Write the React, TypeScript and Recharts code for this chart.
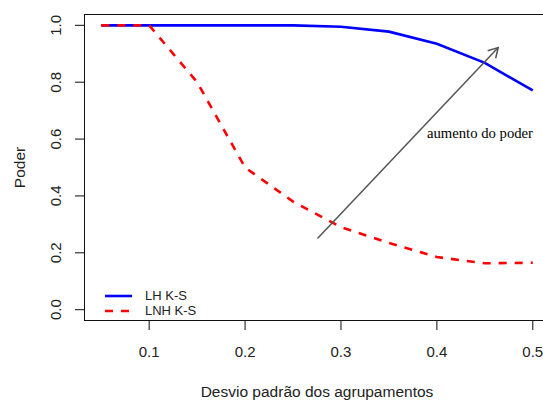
import { LineChart, Line, XAxis, YAxis, ReferenceLine, ReferenceDot } from "recharts"

const sd = [0.05, 0.1, 0.15, 0.2, 0.25, 0.3, 0.35, 0.4, 0.45, 0.5]
const lhKS = [1.0, 1.0, 1.0, 1.0, 1.0, 0.995, 0.978, 0.935, 0.868, 0.771]
const lnhKS = [1.0, 1.0, 0.8, 0.5, 0.38, 0.29, 0.235, 0.185, 0.163, 0.165]
const xTicks = [0.1, 0.2, 0.3, 0.4, 0.5]
const yTicks = [0.0, 0.2, 0.4, 0.6, 0.8, 1.0]
const arrowFrom = { x: 0.2755, y: 0.25 }
const arrowTo = { x: 0.464, y: 0.922 }
const note = { x: 0.445, y: 0.623, text: "aumento do poder" }

const data = sd.map((s, i) => ({ sd: s, lh: lhKS[i], lnh: lnhKS[i] }))

// R-style 4% padding on each side
const xPad = (Math.max(...sd) - Math.min(...sd)) * 0.04
const xDomain = [Math.min(...sd) - xPad, Math.max(...sd) + xPad]
const yDomain = [-0.04, 1.04]

const sans = "'Liberation Sans', Arial, sans-serif"
const serif = "'Liberation Serif', 'Times New Roman', serif"

// plot area, shared by the chart margins and the frame drawn round it
const plot = { left: 84, top: 14, width: 466, height: 307 }
const W = 543
const H = 400

function XTick({ x, y, payload }: any) {
  return (
    <text x={x} y={y} dy="0.355em" textAnchor="middle" fontSize={15} fontFamily={sans} fill="#222">
      {payload.value.toFixed(1)}
    </text>
  )
}

function YTick({ x, y, payload }: any) {
  return (
    <text
      x={x}
      y={y}
      dy="0.355em"
      textAnchor="middle"
      fontSize={15}
      fontFamily={sans}
      fill="#222"
      transform={`rotate(-90, ${x}, ${y})`}
    >
      {payload.value.toFixed(1)}
    </text>
  )
}

function Arrow({ x1, y1, x2, y2 }: any) {
  const ang = Math.atan2(y2 - y1, x2 - x1)
  const len = 11
  const spread = Math.PI / 6
  const h1x = x2 - len * Math.cos(ang - spread)
  const h1y = y2 - len * Math.sin(ang - spread)
  const h2x = x2 - len * Math.cos(ang + spread)
  const h2y = y2 - len * Math.sin(ang + spread)
  return (
    <g stroke="#555" strokeWidth={1.5} fill="none">
      <line x1={x1} y1={y1} x2={x2} y2={y2} />
      <polyline points={`${h1x},${h1y} ${x2},${y2} ${h2x},${h2y}`} />
    </g>
  )
}

export default function App() {
  return (
    <div style={{ position: "absolute", left: 0, top: 0, width: W, height: H, overflow: "hidden", background: "#fff" }}>
      <LineChart
        width={W}
        height={H}
        data={data}
        margin={{ top: plot.top, right: W - plot.left - plot.width, left: 0, bottom: 0 }}
      >
        <XAxis
          dataKey="sd"
          type="number"
          domain={xDomain}
          ticks={xTicks}
          axisLine={false}
          tickLine={{ stroke: "#333", strokeWidth: 1.2 }}
          tickSize={9}
          tickMargin={22}
          height={H - plot.top - plot.height}
          tick={<XTick />}
          label={{
            content: ({ viewBox }: any) => (
              <text
                x={viewBox.x + viewBox.width / 2}
                y={viewBox.y + 70}
                dy="0.355em"
                textAnchor="middle"
                fontSize={15.5}
                fontFamily={sans}
                fill="#222"
              >
                Desvio padrão dos agrupamentos
              </text>
            ),
          }}
        />
        <YAxis
          type="number"
          domain={yDomain}
          ticks={yTicks}
          axisLine={false}
          tickLine={{ stroke: "#333", strokeWidth: 1.2 }}
          tickSize={9}
          tickMargin={19}
          width={plot.left}
          tick={<YTick />}
          label={{
            content: ({ viewBox }: any) => {
              const lx = viewBox.x + 19
              const ly = viewBox.y + viewBox.height / 2
              return (
                <text
                  x={lx}
                  y={ly}
                  dy="0.355em"
                  textAnchor="middle"
                  fontSize={15.5}
                  fontFamily={sans}
                  fill="#222"
                  transform={`rotate(-90, ${lx}, ${ly})`}
                >
                  Poder
                </text>
              )
            },
          }}
        />
        <Line
          dataKey="lh"
          type="linear"
          stroke="#0000ff"
          strokeWidth={2.6}
          dot={false}
          activeDot={false}
          isAnimationActive={false}
        />
        <Line
          dataKey="lnh"
          type="linear"
          stroke="#ff0000"
          strokeWidth={2.6}
          strokeDasharray="8 8"
          dot={false}
          activeDot={false}
          isAnimationActive={false}
        />
        <ReferenceLine segment={[arrowFrom, arrowTo]} shape={<Arrow />} />
        <ReferenceDot
          x={note.x}
          y={note.y}
          r={0}
          shape={(p: any) => (
            <text x={p.cx} y={p.cy} dy="0.355em" textAnchor="middle" fontSize={14.7} fontFamily={serif} fill="#000">
              {note.text}
            </text>
          )}
        />
      </LineChart>
      {/* plot frame (R box()) */}
      <div
        style={{
          position: "absolute",
          left: plot.left,
          top: plot.top,
          width: plot.width,
          height: plot.height,
          boxSizing: "border-box",
          border: "1.3px solid #111",
          pointerEvents: "none",
        }}
      />
      <div style={{ position: "absolute", left: 104, top: 288, fontFamily: sans, fontSize: 13, color: "#222", lineHeight: "15px" }}>
        <div style={{ display: "flex", alignItems: "center", height: 15 }}>
          <svg width={30} height={15}>
            <line x1={1} y1={8} x2={28} y2={8} stroke="#0000ff" strokeWidth={2.6} />
          </svg>
          <span style={{ marginLeft: 11 }}>LH K-S</span>
        </div>
        <div style={{ display: "flex", alignItems: "center", height: 15 }}>
          <svg width={30} height={15}>
            <line x1={1} y1={8} x2={28} y2={8} stroke="#ff0000" strokeWidth={2.6} strokeDasharray="8 8" />
          </svg>
          <span style={{ marginLeft: 11 }}>LNH K-S</span>
        </div>
      </div>
    </div>
  )
}
